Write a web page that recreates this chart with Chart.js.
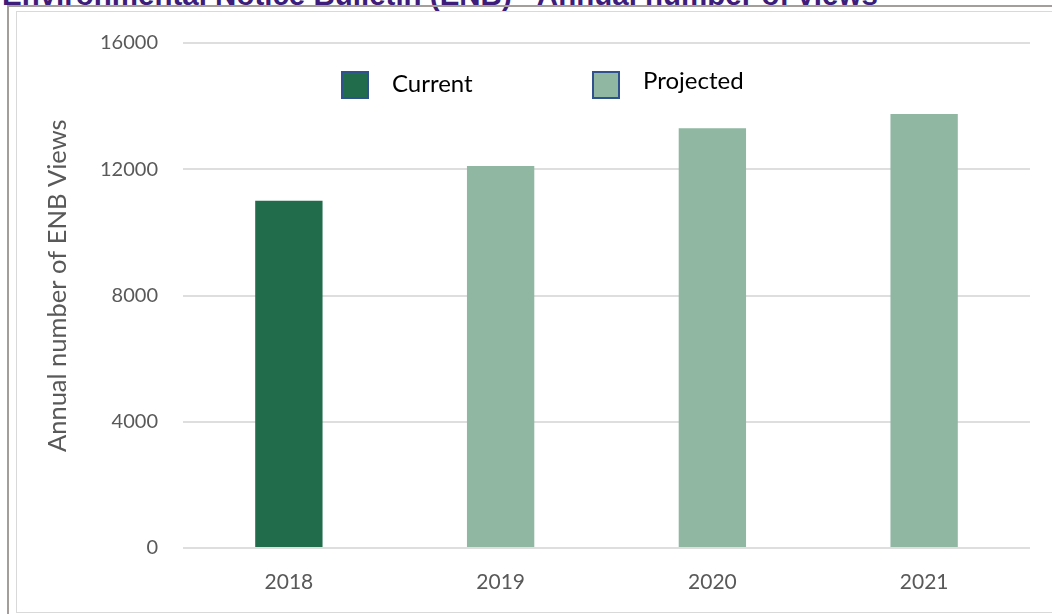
<!DOCTYPE html>
<html>
<head>
<meta charset="utf-8">
<script src="https://cdn.jsdelivr.net/npm/chart.js@4/dist/chart.umd.min.js"></script>
<style>
  html, body { margin: 0; padding: 0; width: 1052px; height: 614px; overflow: hidden; background: #fff; }
  #title { position: absolute; left: 2px; top: -20px; font: bold 29.5px "Liberation Sans", Arial, sans-serif; line-height: 30px; color: #3d1c7a; white-space: nowrap; }
  #outer { position: absolute; left: 7px; top: 5px; width: 1060px; height: 620px; border-left: 2px solid #a59d99; border-top: 2px solid #a59d99; box-sizing: border-box; }
  #frame { position: absolute; left: 16px; top: 11px; width: 1050px; height: 602px; border: 1px solid #d9d9d9; box-sizing: border-box; background: #fff; }
  #wrap { position: absolute; left: 17px; top: 12px; width: 1035px; height: 600px; }
</style>
</head>
<body>
<div id="title">Environmental Notice Bulletin (ENB) - Annual number of views</div>
<div id="outer"></div>
<div id="frame"></div>
<div id="wrap"><canvas id="c" width="1035" height="600"></canvas></div>
<script>
const categories = ["2018", "2019", "2020", "2021"];
const currentValues = [11000, null, null, null];
const projectedValues = [null, 12100, 13300, 13750];
const seriesNames = ["Current", "Projected"];
const seriesColors = ["#216c4a", "#8fb7a2"];
const yTicks = [0, 4000, 8000, 12000, 16000];
const yTickLabels = ["0", "4000", "8000", "12000", "16000"];
const yTitle = "   Annual number of ENB Views";

const legendPlugin = {
  id: 'customLegend',
  afterDraw(chart) {
    const ctx = chart.ctx;
    const items = [
      { box: 324, text: 375, ty: 72 },
      { box: 575, text: 626, ty: 69 }
    ];
    ctx.save();
    chart.data.datasets.forEach((ds, i) => {
      const it = items[i];
      ctx.fillStyle = ds.backgroundColor;
      ctx.fillRect(it.box, 59, 28, 28);
      ctx.strokeStyle = '#2f528f';
      ctx.lineWidth = 2;
      ctx.strokeRect(it.box + 1, 60, 26, 26);
      ctx.fillStyle = '#000';
      ctx.font = '24px Lato';
      ctx.textBaseline = 'middle';
      ctx.textAlign = 'left';
      ctx.fillText(ds.label, it.text, it.ty);
    });
    ctx.restore();
  }
};

new Chart(document.getElementById('c'), {
  type: 'bar',
  data: {
    labels: categories,
    datasets: [
      { label: seriesNames[0], data: currentValues, backgroundColor: seriesColors[0] },
      { label: seriesNames[1], data: projectedValues, backgroundColor: seriesColors[1] }
    ]
  },
  options: {
    responsive: false,
    animation: false,
    skipNull: true,
    categoryPercentage: 1,
    barPercentage: 0.318,
    layout: { padding: { top: 31, right: 22, left: 0, bottom: 0 } },
    plugins: { legend: { display: false }, tooltip: { enabled: false } },
    scales: {
      x: {
        grid: { display: false },
        border: { display: false },
        ticks: { color: '#595959', font: { family: 'Lato', size: 21 }, padding: 14 },
        afterFit(s) { s.height = 64; }
      },
      y: {
        min: 0, max: 16000,
        afterBuildTicks(s) { s.ticks = yTicks.map(v => ({ value: v })); },
        grid: { color: '#dedede', lineWidth: 2, drawTicks: false },
        border: { display: false },
        ticks: {
          color: '#595959', font: { family: 'Lato', size: 20 }, padding: 25,
          callback(v) { const i = yTicks.indexOf(v); return i >= 0 ? yTickLabels[i] : ''; }
        },
        title: { display: true, text: yTitle, color: '#595959', font: { family: 'Lato', size: 25.5, weight: 'normal' }, padding: { top: 25, bottom: 0 } },
        afterFit(s) { s.width = 166; s.paddingTop = 12; s.paddingBottom = 12; }
      }
    }
  },
  plugins: [legendPlugin]
});
</script>
</body>
</html>
